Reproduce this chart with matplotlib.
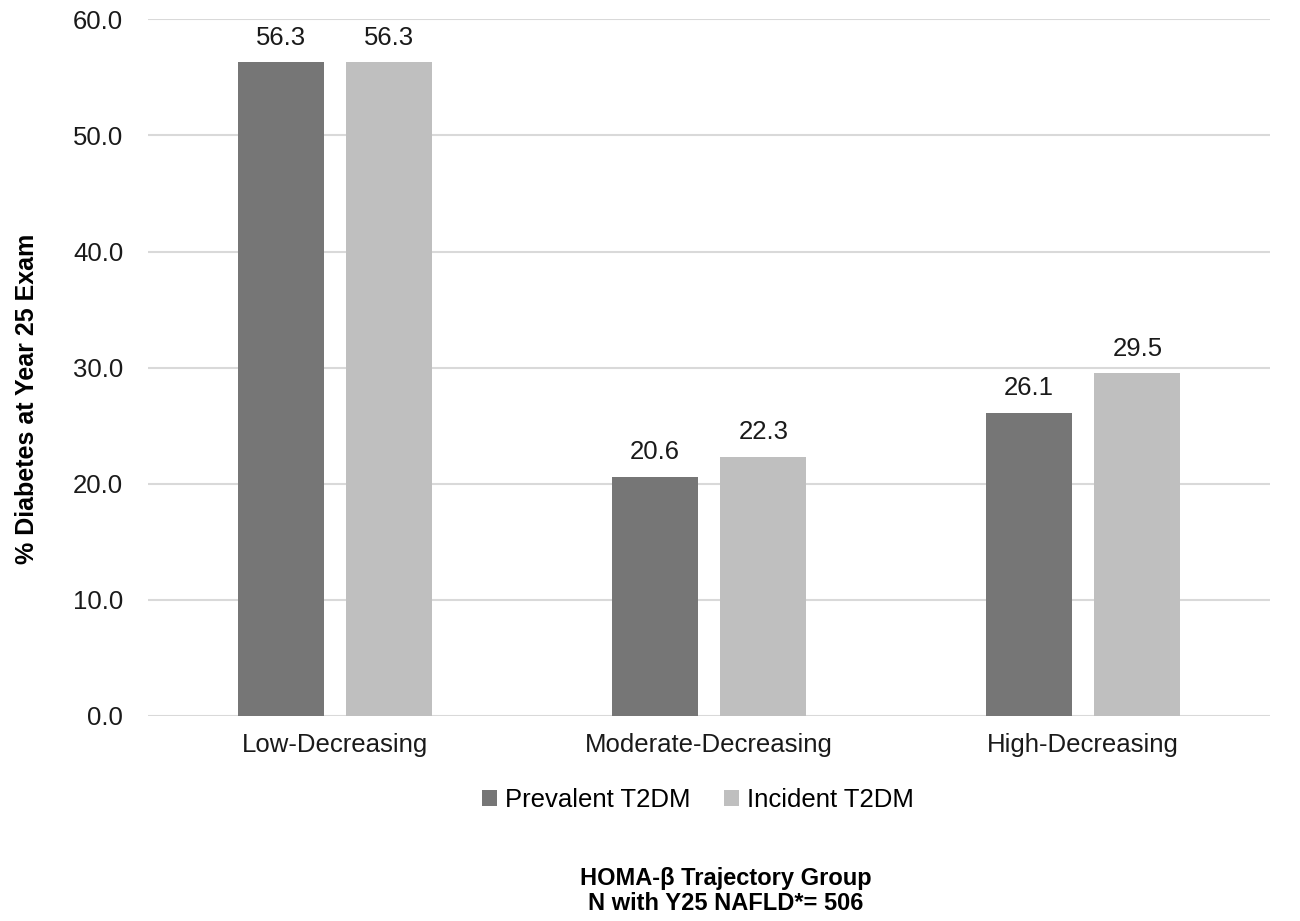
import matplotlib.pyplot as plt
import numpy as np

plt.rcParams['font.family'] = ['Liberation Sans', 'DejaVu Sans']

groups = ["Low-Decreasing", "Moderate-Decreasing", "High-Decreasing"]
prevalent = [56.3, 20.6, 26.1]
incident = [56.3, 22.3, 29.5]

x = np.arange(len(groups))
w = 0.23
off = 0.145

fig = plt.figure(figsize=(13, 9.21), dpi=100)
ax = fig.add_axes([0.114, 0.2226, 0.863, 0.7564])

b1 = ax.bar(x - off, prevalent, w, color="#767676", label="Prevalent T2DM", zorder=3)
b2 = ax.bar(x + off, incident, w, color="#bfbfbf", label="Incident T2DM", zorder=3)

# value labels above each bar
for bars in (b1, b2):
    for r in bars:
        ax.text(r.get_x() + r.get_width() / 2, r.get_height() + 1.1, f"{r.get_height():.1f}",
                ha="center", va="bottom", fontsize=18.5, color="#1a1a1a")

ax.set_xlim(-0.5, 2.5)
ax.set_ylim(0, 60)
ticks = np.arange(0, 61, 10)
ax.set_yticks(ticks)
ax.set_yticklabels([f"{v:.1f}" for v in ticks])
ax.set_xticks(x)
ax.set_xticklabels(groups)
ax.tick_params(length=0, labelsize=18.5, labelcolor="#1a1a1a")
ax.tick_params(axis="x", pad=12)
ax.tick_params(axis="y", pad=18)
ax.grid(axis="y", color="#d9d9d9", linewidth=1.5, zorder=0)
for s in ax.spines.values():
    s.set_visible(False)

ax.set_ylabel("% Diabetes at Year 25 Exam", fontsize=18, fontweight="bold")
ax.yaxis.set_label_coords(-0.097, 0.455)

ax.legend(loc="upper center", bbox_to_anchor=(0.49, -0.07), ncol=2, frameon=False,
          fontsize=18.5, handlelength=0.6, handleheight=0.6, handletextpad=0.3,
          columnspacing=1.3)

fig.text(0.558, 0.033, "HOMA-β Trajectory Group\nN with Y25 NAFLD*= 506",
         ha="center", va="center", fontsize=17, fontweight="bold", linespacing=1.1)

fig.savefig("out.png", dpi=100)
